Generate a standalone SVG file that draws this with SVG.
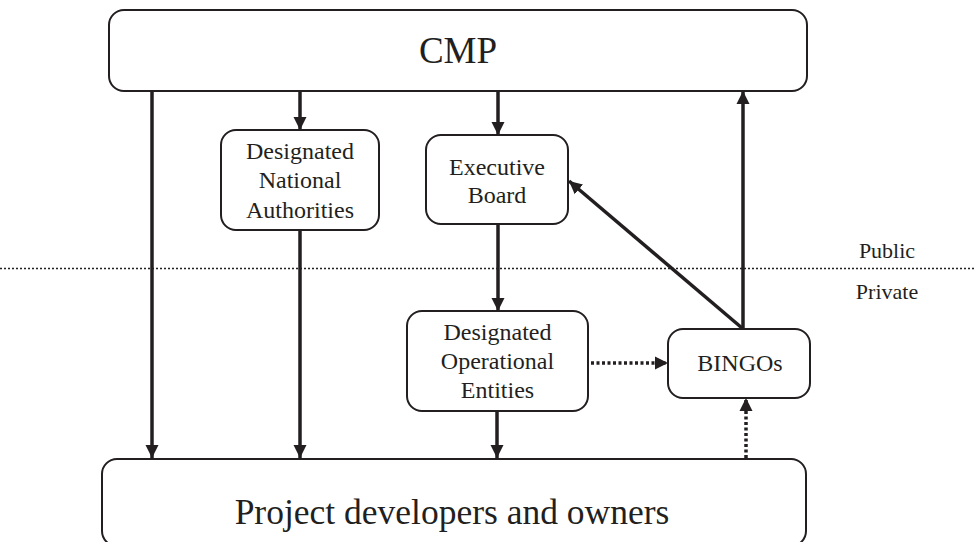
<svg xmlns="http://www.w3.org/2000/svg" width="975" height="542" viewBox="0 0 975 542">
<style>
.box{fill:#fff;stroke:#231f20;stroke-width:2}
.t{font-family:"Liberation Serif",serif;fill:#231f20;text-anchor:middle}
.n{font-size:24px}
.a{stroke:#231f20;stroke-width:3.5;fill:none}
.d{stroke:#231f20;stroke-width:3.5;fill:none;stroke-dasharray:3 2.5}
.sep{stroke:#231f20;stroke-width:1.5;stroke-dasharray:2 2}
</style>
<defs>
<marker id="ah" markerUnits="userSpaceOnUse" markerWidth="14" markerHeight="14" viewBox="0 0 14 14" refX="13" refY="7" orient="auto">
<path d="M0,0.5 L13,7 L0,13.5 z" fill="#231f20"/>
</marker>
</defs>
<rect width="975" height="542" fill="#fff"/>
<line class="sep" x1="0" y1="268.5" x2="975" y2="268.5"/>
<text class="t" x="887" y="258" font-size="22">Public</text>
<text class="t" x="887" y="299" font-size="22">Private</text>
<g id="cmp"><rect class="box" x="109" y="10" width="698" height="81" rx="15"/><text class="t" x="458" y="63" font-size="37">CMP</text></g>
<g id="dna"><rect class="box" x="221" y="130" width="158" height="100" rx="15"/><text class="t n" x="300" y="159">Designated</text><text class="t n" x="300" y="188">National</text><text class="t n" x="300" y="218">Authorities</text></g>
<g id="eb"><rect class="box" x="426" y="135" width="142" height="89" rx="15"/><text class="t n" x="497" y="175">Executive</text><text class="t n" x="497" y="203">Board</text></g>
<g id="doe"><rect class="box" x="407" y="311" width="181" height="100" rx="15"/><text class="t n" x="497.5" y="340">Designated</text><text class="t n" x="497.5" y="369">Operational</text><text class="t n" x="497.5" y="398">Entities</text></g>
<g id="bingos"><rect class="box" x="668" y="329" width="142" height="69" rx="15"/><text class="t n" x="740" y="371">BINGOs</text></g>
<g id="project"><rect class="box" x="102" y="459" width="704" height="87" rx="15"/><text class="t" x="452" y="524" font-size="35.5">Project developers and owners</text></g>
<g id="connectors">
<line class="a" x1="152" y1="92" x2="152" y2="458" marker-end="url(#ah)"/>
<line class="a" x1="300" y1="92" x2="300" y2="130" marker-end="url(#ah)"/>
<line class="a" x1="300" y1="231" x2="300" y2="458" marker-end="url(#ah)"/>
<line class="a" x1="498" y1="92" x2="498" y2="135" marker-end="url(#ah)"/>
<line class="a" x1="498" y1="225" x2="498" y2="311" marker-end="url(#ah)"/>
<line class="a" x1="497" y1="412" x2="497" y2="458" marker-end="url(#ah)"/>
<line class="a" x1="743" y1="329" x2="743" y2="91" marker-end="url(#ah)"/>
<line class="a" x1="742" y1="328" x2="569" y2="181" marker-end="url(#ah)"/>
<line class="d" x1="591" y1="363" x2="668" y2="363" marker-end="url(#ah)"/>
<line class="d" x1="746" y1="458" x2="746" y2="398" marker-end="url(#ah)"/>
</g>
</svg>
